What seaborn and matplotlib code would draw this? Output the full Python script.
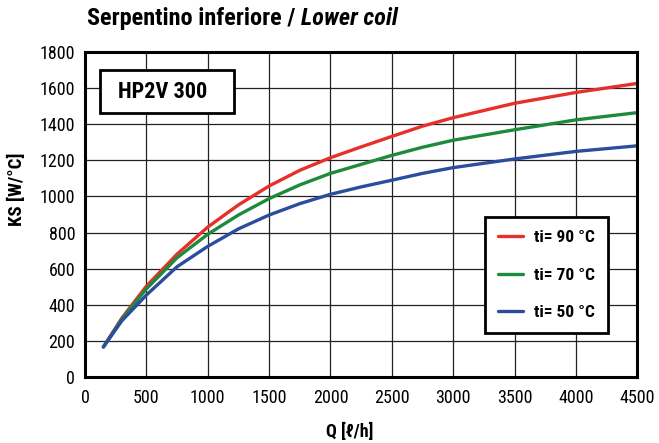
import matplotlib
matplotlib.use("Agg")
import matplotlib.pyplot as plt
from matplotlib.patches import Rectangle
import seaborn as sns
import pandas as pd

# Flow rate [l/h] and heat exchange coefficient KS [W/°C] per inlet temperature
flow = [150, 300, 500, 750, 1000, 1250, 1500, 1750, 2000, 2250, 2500, 2750, 3000, 3500, 4000, 4500]
ks_90 = [165, 325, 502, 680, 830, 953, 1058, 1145, 1215, 1275, 1333, 1390, 1437, 1517, 1577, 1627]
ks_70 = [165, 320, 487, 660, 790, 897, 988, 1064, 1128, 1178, 1228, 1273, 1312, 1370, 1425, 1465]
ks_50 = [165, 310, 453, 610, 723, 820, 897, 960, 1012, 1053, 1090, 1128, 1160, 1208, 1250, 1281]

series_labels = ["ti= 90 °C", "ti= 70 °C", "ti= 50 °C"]
series_colors = ["#e8302a", "#1d8a3c", "#2b4d9e"]

x_ticks = [0, 500, 1000, 1500, 2000, 2500, 3000, 3500, 4000, 4500]
y_ticks = [0, 200, 400, 600, 800, 1000, 1200, 1400, 1600, 1800]

df = pd.concat([
    pd.DataFrame({"Q": flow, "KS": vals, "serie": lab})
    for vals, lab in zip([ks_90, ks_70, ks_50], series_labels)
])

sns.set_theme(style="white")
plt.rcParams["font.family"] = ["Roboto Condensed", "Roboto", "DejaVu Sans"]
for key in ["text.color", "axes.labelcolor", "xtick.color", "ytick.color"]:
    plt.rcParams[key] = "black"

fig = plt.figure(figsize=(6.59, 4.43), dpi=100)
ax = fig.add_axes([0.129, 0.1497, 0.838, 0.7323])

sns.lineplot(data=df, x="Q", y="KS", hue="serie", hue_order=series_labels,
             palette=series_colors, linewidth=2.4, ax=ax, legend=True,
             solid_capstyle="round", solid_joinstyle="round")

ax.set_xlim(0, 4500)
ax.set_ylim(0, 1800)
ax.set_xticks(x_ticks)
ax.set_yticks(y_ticks)
ax.tick_params(axis="both", labelsize=13, length=4, width=1.5, color="black",
               direction="out", pad=3)
ax.tick_params(axis="x", pad=5)
ax.grid(True, color="#222222", linewidth=0.9)
for sp in ax.spines.values():
    sp.set_color("black")
    sp.set_linewidth(2.2)

ax.set_xlabel("Q [ℓ/h]", fontsize=13, fontweight="bold")
ax.set_ylabel("KS [W/°C]", fontsize=13.5, fontweight="bold")
ax.xaxis.set_label_coords(0.48, -0.142)
ax.yaxis.set_label_coords(-0.106, 0.579)

# model box
ax.add_patch(Rectangle((0.027, 0.813), 0.243, 0.132, transform=ax.transAxes,
                       facecolor="white", edgecolor="black", linewidth=2.0, zorder=5))
ax.text(0.060, 0.879, "HP2V 300", transform=ax.transAxes, fontsize=16,
        fontweight="bold", va="center", ha="left", zorder=6)

leg = ax.legend(loc="upper left", bbox_to_anchor=(0.7246, 0.493), frameon=True,
                fancybox=False, edgecolor="black", framealpha=1,
                prop={"weight": "bold", "size": 12.5}, handlelength=1.45,
                handletextpad=0.6, labelspacing=1.3, borderpad=0.75,
                borderaxespad=0)
leg.get_frame().set_linewidth(2.0)
for line in leg.get_lines():
    line.set_linewidth(2.4)

# title: bold part followed by bold italic part on the same baseline
t1 = fig.text(0.132, 0.943, "Serpentino inferiore / ", fontsize=17.5,
              fontweight="bold", ha="left", va="baseline")
fig.canvas.draw()
bb = t1.get_window_extent(fig.canvas.get_renderer())
x_end = fig.transFigure.inverted().transform((bb.x1, bb.y0))[0]
fig.text(x_end, 0.943, "Lower coil", fontsize=17.5, fontweight="bold",
         fontstyle="italic", ha="left", va="baseline")

fig.savefig("out.png", dpi=100, facecolor="white")
